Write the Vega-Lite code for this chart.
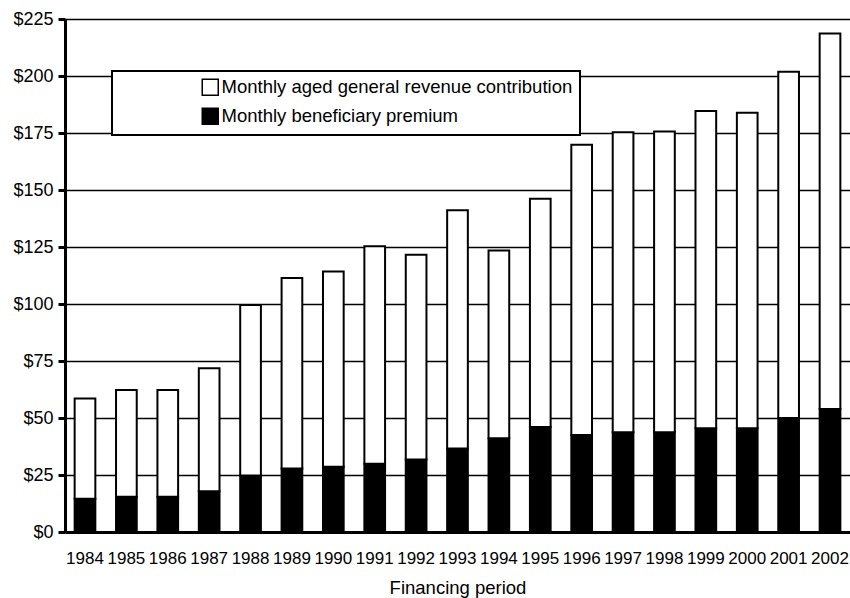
{
  "$schema": "https://vega.github.io/schema/vega-lite/v6.json",
  "width": 785,
  "height": 513,
  "autosize": {"type": "none"},
  "padding": {"left": 65, "top": 19, "right": 0, "bottom": 66},
  "background": "white",
  "config": {"font": "Liberation Sans", "view": {"stroke": "#999999", "strokeWidth": 1}},
  "data": {"values": [
    {"year": "1984", "series": "Monthly beneficiary premium", "value": 14.6},
    {"year": "1984", "series": "Monthly aged general revenue contribution", "value": 44.0},
    {"year": "1985", "series": "Monthly beneficiary premium", "value": 15.5},
    {"year": "1985", "series": "Monthly aged general revenue contribution", "value": 46.8},
    {"year": "1986", "series": "Monthly beneficiary premium", "value": 15.5},
    {"year": "1986", "series": "Monthly aged general revenue contribution", "value": 46.8},
    {"year": "1987", "series": "Monthly beneficiary premium", "value": 17.9},
    {"year": "1987", "series": "Monthly aged general revenue contribution", "value": 53.9},
    {"year": "1988", "series": "Monthly beneficiary premium", "value": 24.8},
    {"year": "1988", "series": "Monthly aged general revenue contribution", "value": 74.8},
    {"year": "1989", "series": "Monthly beneficiary premium", "value": 27.9},
    {"year": "1989", "series": "Monthly aged general revenue contribution", "value": 83.5},
    {"year": "1990", "series": "Monthly beneficiary premium", "value": 28.6},
    {"year": "1990", "series": "Monthly aged general revenue contribution", "value": 85.7},
    {"year": "1991", "series": "Monthly beneficiary premium", "value": 29.9},
    {"year": "1991", "series": "Monthly aged general revenue contribution", "value": 95.4},
    {"year": "1992", "series": "Monthly beneficiary premium", "value": 31.8},
    {"year": "1992", "series": "Monthly aged general revenue contribution", "value": 89.8},
    {"year": "1993", "series": "Monthly beneficiary premium", "value": 36.6},
    {"year": "1993", "series": "Monthly aged general revenue contribution", "value": 104.5},
    {"year": "1994", "series": "Monthly beneficiary premium", "value": 41.1},
    {"year": "1994", "series": "Monthly aged general revenue contribution", "value": 82.4},
    {"year": "1995", "series": "Monthly beneficiary premium", "value": 46.1},
    {"year": "1995", "series": "Monthly aged general revenue contribution", "value": 100.1},
    {"year": "1996", "series": "Monthly beneficiary premium", "value": 42.5},
    {"year": "1996", "series": "Monthly aged general revenue contribution", "value": 127.3},
    {"year": "1997", "series": "Monthly beneficiary premium", "value": 43.8},
    {"year": "1997", "series": "Monthly aged general revenue contribution", "value": 131.5},
    {"year": "1998", "series": "Monthly beneficiary premium", "value": 43.8},
    {"year": "1998", "series": "Monthly aged general revenue contribution", "value": 131.9},
    {"year": "1999", "series": "Monthly beneficiary premium", "value": 45.5},
    {"year": "1999", "series": "Monthly aged general revenue contribution", "value": 139.2},
    {"year": "2000", "series": "Monthly beneficiary premium", "value": 45.5},
    {"year": "2000", "series": "Monthly aged general revenue contribution", "value": 138.4},
    {"year": "2001", "series": "Monthly beneficiary premium", "value": 50.0},
    {"year": "2001", "series": "Monthly aged general revenue contribution", "value": 151.9},
    {"year": "2002", "series": "Monthly beneficiary premium", "value": 54.0},
    {"year": "2002", "series": "Monthly aged general revenue contribution", "value": 164.6}
  ]},
  "mark": {"type": "bar", "stroke": "black", "strokeWidth": 2},
  "encoding": {
    "x": {
      "field": "year",
      "type": "ordinal",
      "title": "Financing period",
      "scale": {"paddingInner": 0.5, "paddingOuter": 0.233},
      "axis": {
        "labelAngle": 0,
        "ticks": false,
        "tickSize": 0,
        "domainWidth": 3,
        "domainColor": "black",
        "labelFontSize": 17,
        "labelPadding": 18,
        "labelColor": "black",
        "titleFontSize": 18.5,
        "titleFontWeight": "normal",
        "titleColor": "black",
        "titlePadding": 12,
        "grid": false
      }
    },
    "y": {
      "field": "value",
      "type": "quantitative",
      "stack": "zero",
      "title": null,
      "scale": {"domain": [0, 225], "nice": false},
      "axis": {
        "values": [0, 25, 50, 75, 100, 125, 150, 175, 200, 225],
        "format": "$.0f",
        "domainWidth": 3,
        "domainColor": "black",
        "tickColor": "black",
        "tickWidth": 3,
        "tickSize": 7,
        "labelPadding": 5,
        "labelFontSize": 18,
        "labelColor": "black",
        "grid": true,
        "gridColor": "black",
        "gridWidth": 1.3,
        "gridOpacity": 1
      }
    },
    "color": {
      "field": "series",
      "type": "nominal",
      "scale": {
        "domain": ["Monthly aged general revenue contribution", "Monthly beneficiary premium"],
        "range": ["white", "black"]
      },
      "legend": {
        "orient": "none",
        "legendX": 47,
        "legendY": 52,
        "title": null,
        "padding": 7,
        "strokeColor": "black",
        "fillColor": "white",
        "symbolType": "square",
        "symbolSize": 256,
        "symbolOffset": 82,
        "symbolStrokeColor": "black",
        "symbolStrokeWidth": 1.5,
        "symbolOpacity": 1,
        "labelFontSize": 18.5,
        "labelOffset": 2,
        "labelColor": "black",
        "labelLimit": 500,
        "rowPadding": 6,
        "encode": {"legend": {"update": {"strokeWidth": {"value": 2}}}}
      }
    },
    "order": {"field": "series", "sort": "descending"}
  }
}
